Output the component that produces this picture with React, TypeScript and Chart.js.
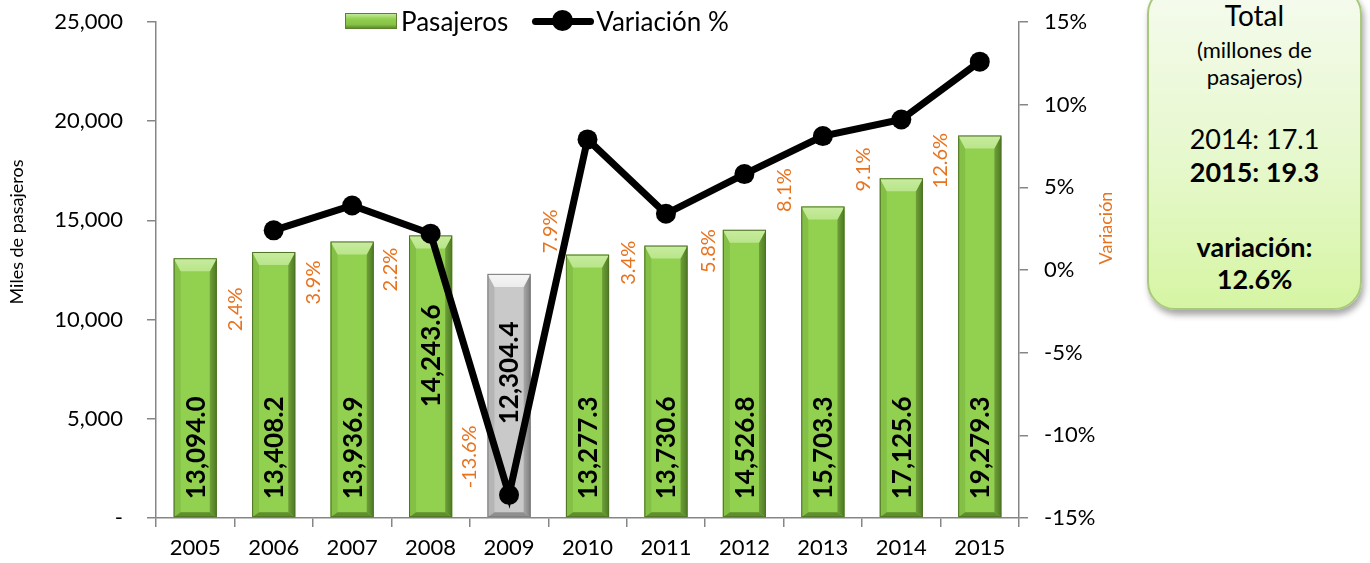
import React, { useEffect, useRef } from "react";
import { Chart, registerables } from "chart.js";
Chart.register(...registerables);

// ---- data ----
const years = ["2005", "2006", "2007", "2008", "2009", "2010", "2011", "2012", "2013", "2014", "2015"];
const passengers = [13094.0, 13408.2, 13936.9, 14243.6, 12304.4, 13277.3, 13730.6, 14526.8, 15703.3, 17125.6, 19279.3];
const variation: (number | null)[] = [null, 2.4, 3.9, 2.2, -13.6, 7.9, 3.4, 5.8, 8.1, 9.1, 12.6];
const leftTicks = [0, 5000, 10000, 15000, 20000, 25000];
const rightTicks = [-15, -10, -5, 0, 5, 10, 15];

// ---- label placement (styling only) ----
const VALUE_LABEL_LIFT = [18, 18, 18, 110, 93, 18, 18, 18, 18, 18, 18];
const PCT_LABEL_OFFSET: ([number, number] | null)[] = [
  null, [-38, 79], [-39, 77], [-40, 36], [-39, -38], [-37, 92], [-37, 49], [-36, 77], [-38, 54], [-38, 50], [-39, 99],
];

const FONT = "Lato, 'Open Sans', sans-serif";
const ORANGE = "#E8731E";
const AXIS = "#868686";
const CANVAS_W = 1140;
const CANVAS_H = 563;

function fmtThousands(v: number, dec = 0) {
  return v.toLocaleString("en-US", { minimumFractionDigits: dec, maximumFractionDigits: dec });
}

function drawBevelBar(ctx: CanvasRenderingContext2D, x0: number, x1: number, y0: number, y1: number, gray: boolean) {
  const bt = 13, bs = 7, bb = 5;
  const c = gray
    ? { face: "#c9c9c9", top: "#ececec", left: "#b5b5b5", right: "#7d7d7d", bottom: "#8f8f8f", line: "#7a7a7a" }
    : { face: "#92D050", top: "#b9e58a", left: "#83c045", right: "#4d7a22", bottom: "#5e8f2c", line: "#4f7325" };
  ctx.save();
  ctx.fillStyle = c.face;
  ctx.fillRect(x0, y0, x1 - x0, y1 - y0);
  const gr = ctx.createLinearGradient(x1 - bs, 0, x1, 0);
  gr.addColorStop(0, gray ? "#a8a8a8" : "#6f9f3a");
  gr.addColorStop(1, c.right);
  ctx.fillStyle = gr;
  ctx.beginPath();
  ctx.moveTo(x1, y0); ctx.lineTo(x1 - bs, y0 + bt); ctx.lineTo(x1 - bs, y1 - bb); ctx.lineTo(x1, y1); ctx.closePath(); ctx.fill();
  ctx.fillStyle = c.left;
  ctx.beginPath();
  ctx.moveTo(x0, y0); ctx.lineTo(x0 + bs, y0 + bt); ctx.lineTo(x0 + bs, y1 - bb); ctx.lineTo(x0, y1); ctx.closePath(); ctx.fill();
  const gt = ctx.createLinearGradient(0, y0, 0, y0 + bt);
  gt.addColorStop(0, gray ? "#f6f6f6" : "#c8ec9f");
  gt.addColorStop(1, c.top);
  ctx.fillStyle = gt;
  ctx.beginPath();
  ctx.moveTo(x0, y0); ctx.lineTo(x1, y0); ctx.lineTo(x1 - bs, y0 + bt); ctx.lineTo(x0 + bs, y0 + bt); ctx.closePath(); ctx.fill();
  ctx.fillStyle = c.bottom;
  ctx.beginPath();
  ctx.moveTo(x0, y1); ctx.lineTo(x1, y1); ctx.lineTo(x1 - bs, y1 - bb); ctx.lineTo(x0 + bs, y1 - bb); ctx.closePath(); ctx.fill();
  ctx.strokeStyle = c.line;
  ctx.lineWidth = 1;
  ctx.strokeRect(x0 + 0.5, y0 + 0.5, x1 - x0 - 1, y1 - y0 - 1);
  ctx.restore();
}

const bevelPlugin = {
  id: "bevelBars",
  afterDatasetDraw(chart: any, args: any) {
    if (args.index !== 0) return;
    const ctx = chart.ctx;
    args.meta.data.forEach((el: any, i: number) => {
      const { x, y, base, width } = el.getProps(["x", "y", "base", "width"], true);
      const v = variation[i];
      drawBevelBar(ctx, x - width / 2, x + width / 2, y, base, v !== null && v < 0);
    });
  },
  afterDatasetsDraw(chart: any) {
    const ctx = chart.ctx;
    const barMeta = chart.getDatasetMeta(0);
    const lineMeta = chart.getDatasetMeta(1);
    ctx.save();
    ctx.font = `bold 26px ${FONT}`;
    ctx.fillStyle = "#000";
    ctx.textAlign = "left";
    ctx.textBaseline = "middle";
    barMeta.data.forEach((el: any, i: number) => {
      const { x, base } = el.getProps(["x", "base"], true);
      ctx.save();
      ctx.translate(x, base - VALUE_LABEL_LIFT[i]);
      ctx.rotate(-Math.PI / 2);
      ctx.fillText(fmtThousands(passengers[i], 1), 0, 1);
      ctx.restore();
    });
    ctx.font = `20px ${FONT}`;
    ctx.fillStyle = ORANGE;
    ctx.textAlign = "center";
    lineMeta.data.forEach((el: any, i: number) => {
      const v = variation[i];
      const off = PCT_LABEL_OFFSET[i];
      if (v === null || !off) return;
      const { x, y } = el.getProps(["x", "y"], true);
      ctx.save();
      ctx.translate(x + off[0], y + off[1]);
      ctx.rotate(-Math.PI / 2);
      ctx.fillText(v.toFixed(1) + "%", 0, 0);
      ctx.restore();
    });
    ctx.font = `18px ${FONT}`;
    ctx.fillStyle = "#000";
    ctx.save();
    ctx.translate(17, 232);
    ctx.rotate(-Math.PI / 2);
    ctx.fillText("Miles de pasajeros", 0, 0);
    ctx.restore();
    ctx.fillStyle = ORANGE;
    ctx.save();
    ctx.translate(1106, 228);
    ctx.rotate(-Math.PI / 2);
    ctx.fillText("Variación", 0, 0);
    ctx.restore();
    ctx.restore();
  },
};

export default function App() {
  const ref = useRef<HTMLCanvasElement>(null);
  useEffect(() => {
    if (!ref.current) return;
    const chart = new Chart(ref.current, {
      type: "bar",
      data: {
        labels: years,
        datasets: [
          {
            type: "bar",
            label: "Pasajeros",
            data: passengers,
            yAxisID: "y",
            backgroundColor: "rgba(0,0,0,0)",
            borderWidth: 0,
            barPercentage: 0.55,
            categoryPercentage: 1,
            order: 2,
          },
          {
            type: "line",
            label: "Variación %",
            data: variation,
            yAxisID: "y1",
            borderColor: "#000",
            backgroundColor: "#000",
            borderWidth: 7,
            pointRadius: 10,
            pointBackgroundColor: "#000",
            pointBorderColor: "#000",
            pointBorderWidth: 0,
            tension: 0,
            order: 1,
          } as any,
        ],
      },
      options: {
        responsive: false,
        animation: false,
        layout: { padding: { top: 22, left: 0, right: 0, bottom: 0 } },
        plugins: { legend: { display: false }, tooltip: { enabled: false } },
        scales: {
          x: {
            grid: { offset: true, drawOnChartArea: false, tickLength: 9, color: AXIS, lineWidth: 1.5 },
            border: { color: AXIS, width: 1.5 },
            ticks: { color: "#000", font: { family: FONT, size: 22 }, padding: 8 },
            afterFit: (s: any) => { s.height = 45; s.paddingLeft = 0; s.paddingRight = 0; },
          },
          y: {
            position: "left",
            min: 0,
            max: 25000,
            afterBuildTicks: (s: any) => { s.ticks = leftTicks.map((v) => ({ value: v })); },
            grid: { drawOnChartArea: false, tickLength: 9, color: AXIS, lineWidth: 1.5 },
            border: { color: AXIS, width: 1.5 },
            ticks: {
              color: "#000",
              font: { family: FONT, size: 22 },
              padding: 24,
              callback: (v: any) => (v === 0 ? "-" : fmtThousands(v)),
            },
            afterFit: (s: any) => { s.width = 156; s.paddingTop = 0; s.paddingBottom = 0; },
          },
          y1: {
            position: "right",
            min: -15,
            max: 15,
            afterBuildTicks: (s: any) => { s.ticks = rightTicks.map((v) => ({ value: v })); },
            grid: { drawOnChartArea: false, tickLength: 9, color: AXIS, lineWidth: 1.5 },
            border: { color: AXIS, width: 1.5 },
            ticks: {
              color: "#000",
              font: { family: FONT, size: 22 },
              padding: 16,
              callback: (v: any) => v + "%",
            },
            afterFit: (s: any) => { s.width = CANVAS_W - 1019; s.paddingTop = 0; s.paddingBottom = 0; },
          },
        },
      },
      plugins: [bevelPlugin],
    });
    return () => chart.destroy();
  }, []);

  const last = passengers.length - 1;
  const lastVar = variation[last] as number;

  return (
    <div style={{ position: "absolute", left: 0, top: 0, width: 1370, height: 563, background: "#fff", fontFamily: FONT, overflow: "hidden" }}>
      <canvas ref={ref} width={CANVAS_W} height={CANVAS_H} style={{ position: "absolute", left: 0, top: 0, width: CANVAS_W, height: CANVAS_H }} />
      {/* legend */}
      <div style={{ position: "absolute", left: 345, top: 4, height: 34, display: "flex", alignItems: "center", fontSize: 26, color: "#000", whiteSpace: "nowrap" }}>
        <div style={{
          width: 52, height: 16, marginRight: 4, boxSizing: "border-box",
          background: "linear-gradient(180deg,#c3ea98 0%,#92D050 35%,#86c145 75%,#5e8f2c 100%)",
          border: "1px solid #5b7f2f",
        }} />
        <span>Pasajeros</span>
        <div style={{ position: "relative", width: 62, height: 22, marginLeft: 24, marginRight: 2 }}>
          <div style={{ position: "absolute", left: 0, right: 0, top: 7.5, height: 7, background: "#000", borderRadius: 4 }} />
          <div style={{ position: "absolute", left: 20, top: 0, width: 21, height: 21, background: "#000", borderRadius: "50%" }} />
        </div>
        <span>Variación %</span>
      </div>
      {/* total box */}
      <div style={{
        position: "absolute", left: 1147, top: -14, width: 215, height: 324, boxSizing: "border-box",
        borderRadius: 28, border: "2px solid #a9c97a",
        background: "linear-gradient(180deg,#f5fbee 0%,#e6f8cc 55%,#d6f5a3 100%)",
        boxShadow: "2px 5px 6px rgba(0,0,0,0.35)", color: "#000", textAlign: "center",
      }}>
        {[
          { t: "Total", y: 28, s: 28, b: false },
          { t: "(millones de", y: 62, s: 22, b: false },
          { t: "pasajeros)", y: 89, s: 22, b: false },
          { t: `2014: ${(passengers[last - 1] / 1000).toFixed(1)}`, y: 151, s: 27, b: false },
          { t: `${years[last]}: ${(passengers[last] / 1000).toFixed(1)}`, y: 184, s: 27, b: true },
          { t: "variación:", y: 259, s: 27, b: true },
          { t: `${lastVar.toFixed(1)}%`, y: 291, s: 27, b: true },
        ].map((l, i) => (
          <div key={i} style={{ position: "absolute", left: 0, width: "100%", top: l.y - l.s * 0.6, fontSize: l.s, lineHeight: `${l.s * 1.2}px`, fontWeight: l.b ? 700 : 400 }}>
            {l.t}
          </div>
        ))}
      </div>
    </div>
  );
}
